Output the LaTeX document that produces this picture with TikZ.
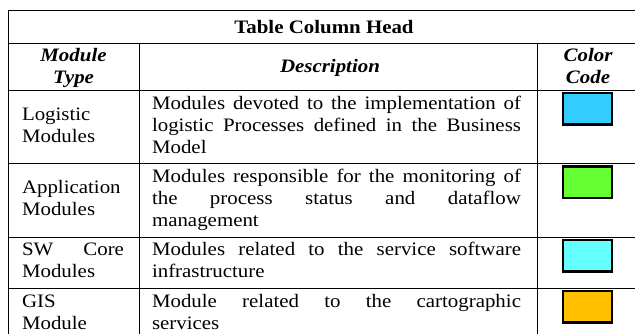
\documentclass[tikz,border=0pt]{standalone}
\usepackage{fontspec}
\setmainfont[FakeStretch=1.1]{Liberation Serif}
\definecolor{logblue}{HTML}{33CCFF}
\definecolor{appgreen}{HTML}{66FF33}
\definecolor{corecyan}{HTML}{66FFFF}
\definecolor{gisorange}{HTML}{FFC000}
\begin{document}
\begin{tikzpicture}[x=1pt,y=-1pt,
  every node/.style={inner sep=0pt, outer sep=0pt, font=\fontsize{19}{22}\selectfont},
  rule/.style={line width=1pt, draw=black},
  swatch/.style={line width=2.5pt, draw=black},
  head/.style={anchor=base, font=\fontsize{19}{22}\selectfont\bfseries\itshape},
  cell/.style={anchor=base west}]
\useasboundingbox (0,0) rectangle (635,334);
\fill[white] (0,0) rectangle (635,334);

% grid of the table
\begin{scope}
  \clip (0,0) rectangle (635,334);
  \draw[rule] (8,10.3) -- (645,10.3);
  \draw[rule] (8,44) -- (645,44);
  \draw[rule] (8,90.7) -- (645,90.7);
  \draw[rule] (8,164) -- (645,164);
  \draw[rule] (8,237.3) -- (645,237.3);
  \draw[rule] (8,288.6) -- (645,288.6);
  \draw[rule] (8,10.3) -- (8,340);
  \draw[rule] (139,44) -- (139,340);
  \draw[rule] (537,44) -- (537,340);
\end{scope}

% title and column heads
\node[anchor=base, font=\fontsize{19}{22}\selectfont\bfseries] (title) at (324,33.3) {Table Column Head};
\node[head] (hmod1) at (73.5,62) {Module};
\node[head] (hmod2) at (73.5,84) {Type};
\node[head] (hdesc) at (330,73) {Description};
\node[head] (hcol1) at (588,62) {Color};
\node[head] (hcol2) at (588,84) {Code};

% row 1
\node[cell] (t1a) at (22,120.2) {Logistic};
\node[cell] (t1b) at (22,142.2) {Modules};
\node[cell] (d1a) at (152,109.2) {\makebox[369pt][s]{Modules devoted to the implementation of}};
\node[cell] (d1b) at (152,131.2) {\makebox[369pt][s]{logistic Processes defined in the Business}};
\node[cell] (d1c) at (152,153.2) {Model};
\draw[swatch, fill=logblue] (563,93.2) rectangle (611.8,124.7);

% row 2
\node[cell] (t2a) at (22,193.5) {Application};
\node[cell] (t2b) at (22,215.5) {Modules};
\node[cell] (d2a) at (152,182.5) {\makebox[369pt][s]{Modules responsible for the monitoring of}};
\node[cell] (d2b) at (152,204.5) {\makebox[369pt][s]{the process status and dataflow}};
\node[cell] (d2c) at (152,226.5) {management};
\draw[swatch, fill=appgreen] (563,166.5) rectangle (611.8,198);

% row 3
\node[cell] (t3a) at (22,255.8) {\makebox[102pt][s]{SW Core}};
\node[cell] (t3b) at (22,277.8) {Modules};
\node[cell] (d3a) at (152,255.8) {\makebox[369pt][s]{Modules related to the service software}};
\node[cell] (d3b) at (152,277.8) {infrastructure};
\draw[swatch, fill=corecyan] (563,239.8) rectangle (611.8,271.3);

% row 4
\node[cell] (t4a) at (22,307.1) {GIS};
\node[cell] (t4b) at (22,329.1) {Module};
\node[cell] (d4a) at (152,307.1) {\makebox[369pt][s]{Module related to the cartographic}};
\node[cell] (d4b) at (152,329.1) {services};
\draw[swatch, fill=gisorange] (563,291.1) rectangle (611.8,322.6);
\end{tikzpicture}
\end{document}
